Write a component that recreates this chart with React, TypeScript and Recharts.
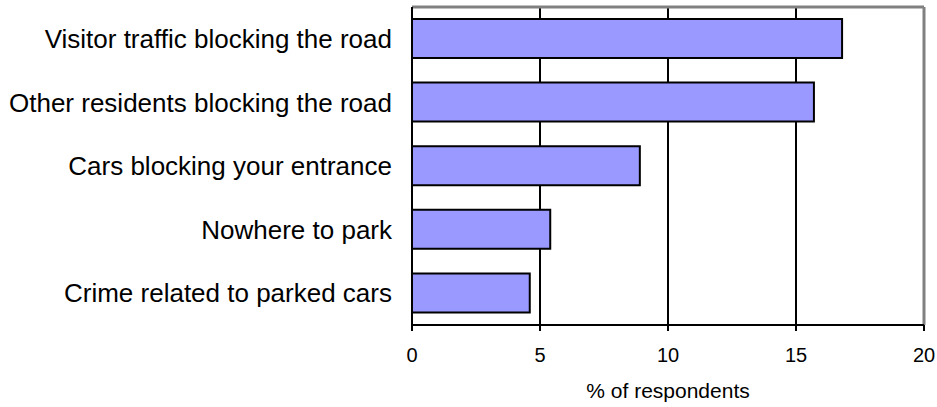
import { Bar, BarChart, CartesianGrid, ReferenceLine, XAxis, YAxis } from "recharts";

const problems = [
  "Visitor traffic blocking the road",
  "Other residents blocking the road",
  "Cars blocking your entrance",
  "Nowhere to park",
  "Crime related to parked cars",
];
const percentages = [16.8, 15.7, 8.9, 5.4, 4.6];
const xTicks = [0, 5, 10, 15, 20];

const data = problems.map((problem, i) => ({ problem, value: percentages[i] }));

const font = "'Liberation Sans', Arial, sans-serif";

export default function App() {
  return (
    <div style={{ position: "absolute", left: 0, top: 0, background: "#fff" }}>
      <BarChart
        layout="vertical"
        width={937}
        height={407}
        data={data}
        margin={{ top: 7, right: 13, bottom: 0, left: 0 }}
        barCategoryGap={0}
      >
        <CartesianGrid horizontal={false} stroke="#000" strokeWidth={2} />
        <XAxis
          type="number"
          domain={[0, 20]}
          ticks={xTicks}
          interval={0}
          height={82}
          axisLine={{ stroke: "#000", strokeWidth: 2 }}
          tickLine={{ stroke: "#000", strokeWidth: 2 }}
          tickSize={6}
          tickMargin={17}
          tick={{ fill: "#000", fontSize: 20, fontFamily: font }}
          label={{
            value: "% of respondents",
            position: "insideBottom",
            offset: 9,
            fill: "#000",
            fontSize: 21,
            fontFamily: font,
          }}
        />
        <YAxis
          type="category"
          dataKey="problem"
          width={412}
          axisLine={{ stroke: "#000", strokeWidth: 2 }}
          tickLine={false}
          tickSize={0}
          tickMargin={20}
          tick={{ fill: "#000", fontSize: 26, fontFamily: font }}
        />
        <ReferenceLine x={20} stroke="#808080" strokeWidth={3} />
        <ReferenceLine y={problems[0]} position="start" stroke="#808080" strokeWidth={3} />
        <Bar
          dataKey="value"
          fill="#9999ff"
          stroke="#000"
          strokeWidth={2}
          barSize={39}
          isAnimationActive={false}
        />
      </BarChart>
    </div>
  );
}
